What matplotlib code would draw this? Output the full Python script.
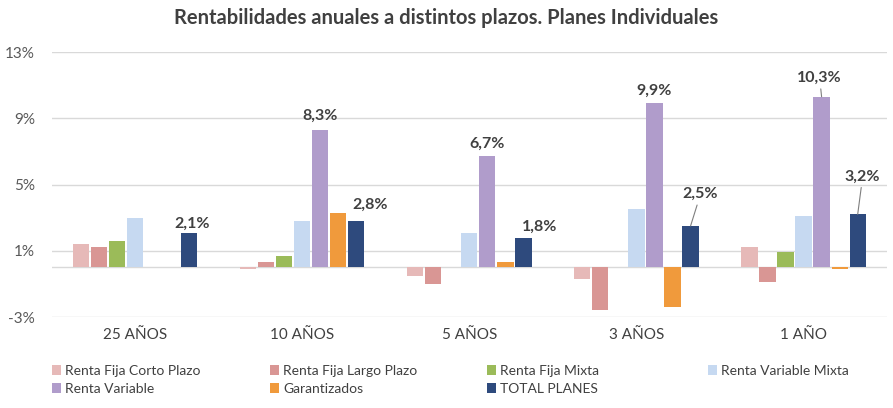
import numpy as np
import matplotlib
matplotlib.use('Agg')
import matplotlib.pyplot as plt

plt.rcParams['font.family'] = ['Lato', 'DejaVu Sans']

# Datos
plazos = ['25 AÑOS', '10 AÑOS', '5 AÑOS', '3 AÑOS', '1 AÑO']
series = ['Renta Fija Corto Plazo', 'Renta Fija Largo Plazo', 'Renta Fija Mixta',
          'Renta Variable Mixta', 'Renta Variable', 'Garantizados', 'TOTAL PLANES']
rf_corto = [1.4, -0.1, -0.5, -0.7, 1.2]
rf_largo = [1.2, 0.3, -1.0, -2.6, -0.9]
rf_mixta = [1.6, 0.7, np.nan, np.nan, 0.9]
rv_mixta = [3.0, 2.8, 2.1, 3.5, 3.1]
rv = [np.nan, 8.3, 6.7, 9.9, 10.3]
garantizados = [np.nan, 3.3, 0.3, -2.4, -0.1]
total = [2.1, 2.8, 1.8, 2.5, 3.2]

colores = ['#E6B9B8', '#D99694', '#9BBB59', '#C6D9F1', '#B09CCB', '#F09A3C', '#2E4A7D']
valores = [rf_corto, rf_largo, rf_mixta, rv_mixta, rv, garantizados, total]

fig = plt.figure(figsize=(8.93, 4.08), dpi=100)
ax = fig.add_axes([0.0577, 0.223, 0.9357, 0.6495])

x = np.arange(len(plazos))
slot = 0.108
width = 0.097
bars = []
for i, (vals, col) in enumerate(zip(valores, colores)):
    b = ax.bar(x + (i - 3) * slot, vals, width, color=col, zorder=3)
    bars.append(b)

ax.set_xlim(-0.5, len(plazos) - 0.5)
ax.set_ylim(-3, 13)
ax.set_yticks([-3, 1, 5, 9, 13])
ax.set_yticklabels(['-3%', '1%', '5%', '9%', '13%'])
ax.grid(axis='y', color='#D9D9D9', lw=1, zorder=0)
ax.axhline(0, color='#D9D9D9', lw=1, zorder=1)
for s in ax.spines.values():
    s.set_visible(False)
ax.set_xticks(x)
ax.set_xticklabels(plazos)
ax.tick_params(axis='y', length=0, pad=12, labelsize=11, labelcolor='#595959')
ax.tick_params(axis='x', length=0, pad=8, labelsize=11, labelcolor='#404040')

# Etiquetas de datos (Renta Variable y TOTAL PLANES)
offsets_rv = [None, (0, 7), (0, 6), (0, 6), (-2, 12)]
offsets_tot = [(3, 2), (14, 9), (16, 4), (10, 25), (5, 31)]
con_linea = {(4, 4), (6, 3), (6, 4)}
for j in range(len(plazos)):
    for si, offs in ((4, offsets_rv), (6, offsets_tot)):
        v = valores[si][j]
        if offs[j] is None or np.isnan(v):
            continue
        xb = x[j] + (si - 3) * slot
        arrow = dict(arrowstyle='-', color='#7F7F7F', lw=0.8, shrinkA=1, shrinkB=0) \
            if (si, j) in con_linea else None
        ax.annotate(f'{v:.1f}%'.replace('.', ','), xy=(xb, v), xytext=offs[j],
                    textcoords='offset pixels', ha='center', va='bottom',
                    fontsize=11.5, fontweight='bold', color='#404040',
                    arrowprops=arrow, zorder=4)

fig.text(0.5, 0.955, 'Rentabilidades anuales a distintos plazos. Planes Individuales',
         ha='center', va='center', fontsize=14.5, fontweight='bold', color='#404040')

# Leyenda en cuatro columnas
col_x = [0.058, 0.302, 0.545, 0.793]
for c in range(4):
    idx = [c, c + 4] if c + 4 < len(series) else [c]
    fig.legend([bars[i] for i in idx], [series[i] for i in idx], loc='upper left',
               bbox_to_anchor=(col_x[c], 0.106), frameon=False, fontsize=10,
               handlelength=0.65, handleheight=0.65, handletextpad=0.3,
               labelspacing=0.45, borderpad=0, borderaxespad=0,
               labelcolor='#404040')

fig.savefig('out.png', dpi=100)
